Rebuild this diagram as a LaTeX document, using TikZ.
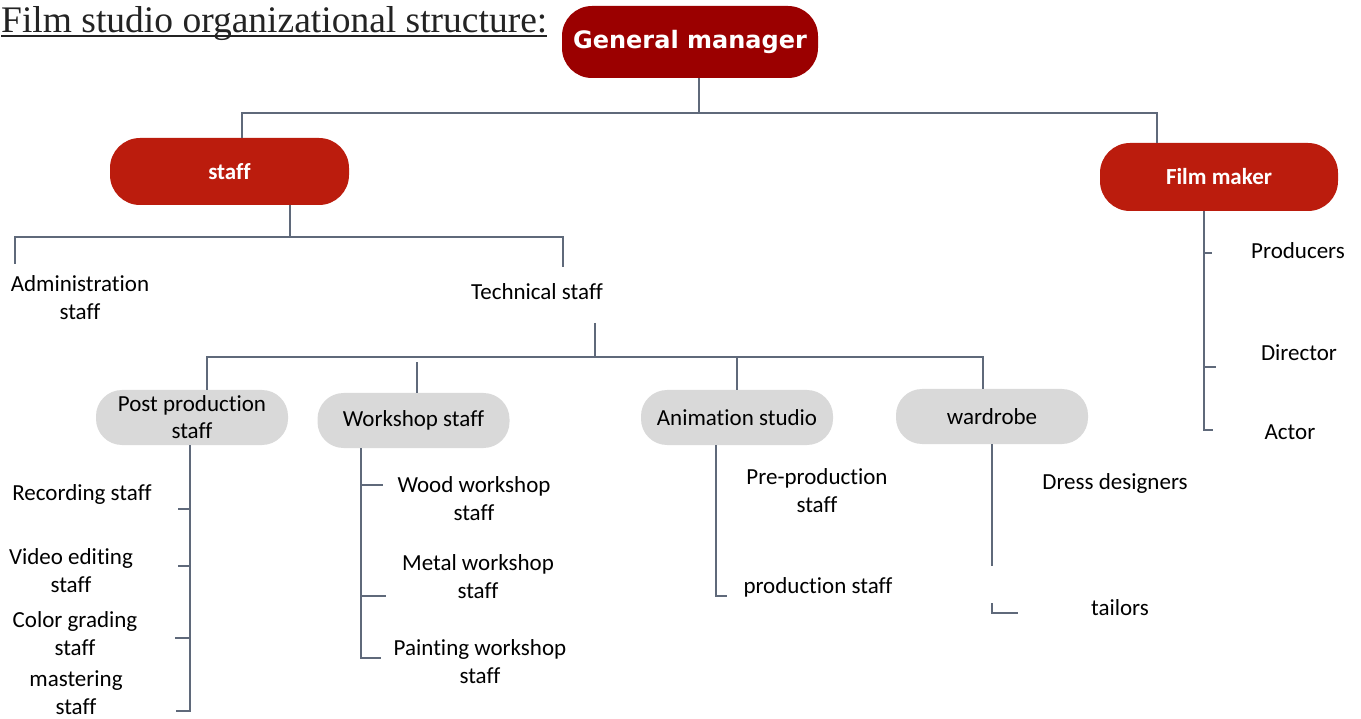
\documentclass[tikz,border=0pt]{standalone}
\usepackage{fontspec}
\setmainfont{Carlito}[Ligatures=NoCommon]
\newfontfamily\titlefont{Liberation Serif}
\newfontfamily\gmfont{DejaVu Sans}
\definecolor{gmred}{RGB}{155,0,0}
\definecolor{boxred}{RGB}{187,28,13}
\definecolor{boxgray}{RGB}{217,217,217}
\definecolor{linegray}{RGB}{95,105,122}
\definecolor{titlegray}{RGB}{35,35,35}

\begin{document}
\begin{tikzpicture}[x=1pt, y=-1pt,
  conn/.style={draw=linegray, line width=1.2pt},
  redbox/.style={fill=boxred, rounded corners=30pt, text=white, inner sep=2pt,
    font=\fontsize{23}{27}\selectfont\bfseries},
  graybox/.style={fill=boxgray, rounded corners=26pt, minimum width=192pt, minimum height=55pt,
    align=center, inner sep=2pt, font=\fontsize{23}{27}\selectfont},
  lbl/.style={align=center, inner sep=2pt, font=\fontsize{23}{28}\selectfont}]
  \useasboundingbox (0,0) rectangle (1361,719);

  % title
  \node [anchor=base west, inner sep=0, text=titlegray, font=\titlefont\fontsize{37.5}{40}\selectfont] (title) at (1,33) {Film studio organizational structure:};
  \draw [titlegray, line width=1.6pt] ([yshift=-3pt]title.base west) -- ([yshift=-3pt]title.base east);

  % top levels
  \node [fill=gmred, rounded corners=30pt, text=white, minimum width=256pt, minimum height=72pt,
    font=\gmfont\bfseries\fontsize{24}{28}\selectfont] (gm) at (690,42) {General manager};
  \node [redbox, minimum width=239pt, minimum height=67pt] (staff) at (229.5,171.5) {staff};
  \node [redbox, minimum width=238pt, minimum height=68pt] (film) at (1219,177) {Film maker};

  \coordinate (top) at (699,113);
  \coordinate (xl) at (242,113);
  \coordinate (xr) at (1157,113);
  \draw [conn] (gm.south -| top) -- (top);
  \draw [conn] (staff.north -| xl) |- (top) -| (film.north -| xr);

  % staff
  \node [lbl] (admin) at (80,298) {Administration\\staff};
  \node [lbl] (tech) at (537,292) {Technical staff};
  \coordinate (sb) at (290,237);
  \coordinate (b1) at (15,264);
  \coordinate (b2) at (563,267);
  \draw [conn] (staff.south -| sb) -- (sb);
  \draw [conn] (b1) |- (sb) -| (b2);

  % technical staff
  \node [graybox] (post) at (192,417.5) {Post production\\staff};
  \node [graybox] (work) at (413.5,420.5) {Workshop staff};
  \node [graybox] (anim) at (737,417.5) {Animation studio};
  \node [graybox] (ward) at (992,416.5) {wardrobe};
  \coordinate (t1) at (595,323);
  \coordinate (tb) at (595,357);
  \coordinate (d1) at (207,357);
  \coordinate (d2) at (417,362);
  \coordinate (d3) at (737,357);
  \coordinate (d4) at (983,357);
  \draw [conn] (t1) -- (tb);
  \draw [conn] (post.north -| d1) |- (tb) -| (ward.north -| d4);
  \draw [conn] (work.north -| d2) -- (d2);
  \draw [conn] (anim.north -| d3) -- (d3);

  % post production
  \node [lbl] (rec) at (82,494) {Recording staff};
  \node [lbl] (video) at (71,571) {Video editing\\staff};
  \node [lbl] (color) at (75,634) {Color grading\\staff};
  \node [lbl] (master) at (76,693) {mastering\\staff};
  \coordinate (p1) at (176,711);
  \draw [conn] (post.south -| 190,0) |- (p1);
  \foreach \y/\x in {509/178, 566/178, 638/175}
    \draw [conn] (190,\y) -- (\x,\y);

  % workshop
  \node [lbl] (wood) at (474,498.5) {Wood workshop\\staff};
  \node [lbl] (metal) at (478,577) {Metal workshop\\staff};
  \node [lbl] (paint) at (480,661.5) {Painting workshop\\staff};
  \coordinate (w1) at (381,658);
  \draw [conn] (work.south -| 361,0) |- (w1);
  \foreach \y/\x in {485/383, 596/386}
    \draw [conn] (361,\y) -- (\x,\y);

  % animation
  \node [lbl] (pre) at (817,491) {Pre-production\\staff};
  \node [lbl] (prod) at (818,587) {production staff};
  \coordinate (a1) at (727,596);
  \draw [conn] (anim.south -| 716,0) |- (a1);

  % wardrobe
  \node [lbl] (dress) at (1115,483) {Dress designers};
  \node [lbl] (tailor) at (1120,608) {tailors};
  \coordinate (r1) at (992,566);
  \coordinate (r2) at (992,603);
  \coordinate (r3) at (1018,613);
  \draw [conn] (ward.south -| r1) -- (r1);
  \draw [conn] (r2) |- (r3);

  % film maker
  \node [lbl] (producer) at (1298,251) {Producers};
  \node [lbl] (director) at (1299,353) {Director};
  \node [lbl] (actor) at (1290,432) {Actor};
  \coordinate (f1) at (1213,430);
  \draw [conn] (film.south -| 1204,0) |- (f1);
  \foreach \y/\x in {253/1212, 367/1216}
    \draw [conn] (1204,\y) -- (\x,\y);
\end{tikzpicture}
\end{document}
